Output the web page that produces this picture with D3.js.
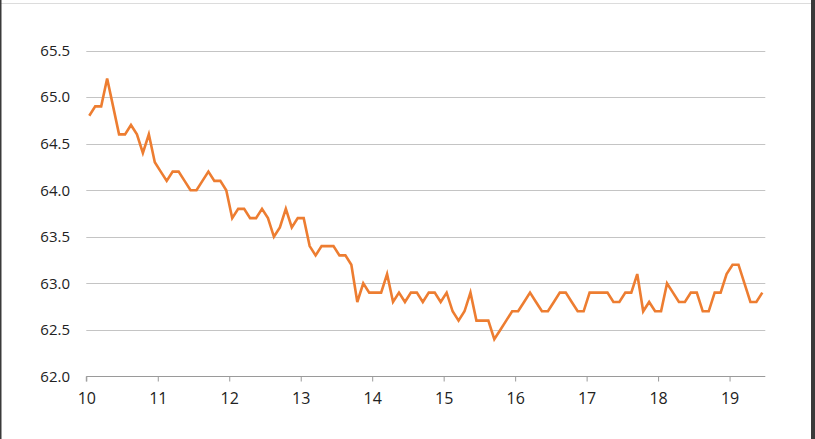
<!DOCTYPE html>
<html>
<head>
<meta charset="utf-8">
<script src="https://cdn.jsdelivr.net/npm/d3@7"></script>
<style>
  html, body { margin: 0; padding: 0; background: #fff; }
  svg { display: block; }
</style>
</head>
<body>
<svg id="chart" width="815" height="439"></svg>
<script>
// Monthly values, starting January of year 10
const startYear = 10;
const values = [
  64.8, 64.9, 64.9, 65.2, 64.9, 64.6, 64.6, 64.7, 64.6, 64.4, 64.6, 64.3,
  64.2, 64.1, 64.2, 64.2, 64.1, 64.0, 64.0, 64.1, 64.2, 64.1, 64.1, 64.0,
  63.7, 63.8, 63.8, 63.7, 63.7, 63.8, 63.7, 63.5, 63.6, 63.8, 63.6, 63.7,
  63.7, 63.4, 63.3, 63.4, 63.4, 63.4, 63.3, 63.3, 63.2, 62.8, 63.0, 62.9,
  62.9, 62.9, 63.1, 62.8, 62.9, 62.8, 62.9, 62.9, 62.8, 62.9, 62.9, 62.8,
  62.9, 62.7, 62.6, 62.7, 62.9, 62.6, 62.6, 62.6, 62.4, 62.5, 62.6, 62.7,
  62.7, 62.8, 62.9, 62.8, 62.7, 62.7, 62.8, 62.9, 62.9, 62.8, 62.7, 62.7,
  62.9, 62.9, 62.9, 62.9, 62.8, 62.8, 62.9, 62.9, 63.1, 62.7, 62.8, 62.7,
  62.7, 63.0, 62.9, 62.8, 62.8, 62.9, 62.9, 62.7, 62.7, 62.9, 62.9, 63.1,
  63.2, 63.2, 63.0, 62.8, 62.8, 62.9
];
const xTicks = [10, 11, 12, 13, 14, 15, 16, 17, 18, 19];
const yTicks = [62.0, 62.5, 63.0, 63.5, 64.0, 64.5, 65.0, 65.5];

const data = values.map((v, i) => ({ t: startYear + (i + 0.5) / 12, v }));

const svg = d3.select("#chart");
const W = 815, H = 439;

// frame
svg.append("line").attr("x1", 0).attr("x2", 811).attr("y1", 3.5).attr("y2", 3.5)
  .attr("stroke", "#dcdcdc").attr("stroke-width", 1);
svg.append("rect").attr("x", 0).attr("y", 0).attr("width", 1.5).attr("height", H).attr("fill", "#3a3a3a");
svg.append("rect").attr("x", 811).attr("y", 0).attr("width", 4).attr("height", H).attr("fill", "#3a3a3a");

const x = d3.scaleLinear().domain([10, 19.5]).range([86.3, 765.3]);
const y = d3.scaleLinear().domain([62.0, 65.5]).range([376.5, 50.5]);

// gridlines
svg.append("g").selectAll("line").data(yTicks.filter(d => d > 62.0)).join("line")
  .attr("x1", x.range()[0]).attr("x2", x.range()[1])
  .attr("y1", d => Math.round(y(d)) + 0.5).attr("y2", d => Math.round(y(d)) + 0.5)
  .attr("stroke", "#c4c4c4").attr("stroke-width", 1);

// y labels
svg.append("g").selectAll("text").data(yTicks).join("text")
  .attr("x", 70).attr("y", d => y(d)).attr("dy", "0.36em")
  .attr("text-anchor", "end")
  .attr("font-family", "'Open Sans', sans-serif").attr("font-size", 15)
  .attr("fill", "#222")
  .text(d => d.toFixed(1));

// x axis
const xAxis = d3.axisBottom(x).tickValues(xTicks).tickSize(5).tickPadding(11).tickFormat(d3.format("d"));
const gx = svg.append("g").attr("transform", `translate(0,${Math.round(y(62.0)) - 0.5})`).call(xAxis);
gx.select(".domain").attr("stroke", "#9a9a9a").attr("d", `M${x.range()[0]},5V0H${x.range()[1]}`);
gx.selectAll(".tick line").attr("stroke", "#9a9a9a");
gx.selectAll(".tick text").attr("font-family", "'Open Sans', sans-serif").attr("font-size", 16).attr("fill", "#222");

// line
const line = d3.line().x(d => x(d.t)).y(d => y(d.v));
svg.append("path").datum(data).attr("d", line)
  .attr("fill", "none").attr("stroke", "#ED7D31").attr("stroke-width", 2.6)
  .attr("stroke-linejoin", "miter").attr("stroke-linecap", "butt");
</script>
</body>
</html>
